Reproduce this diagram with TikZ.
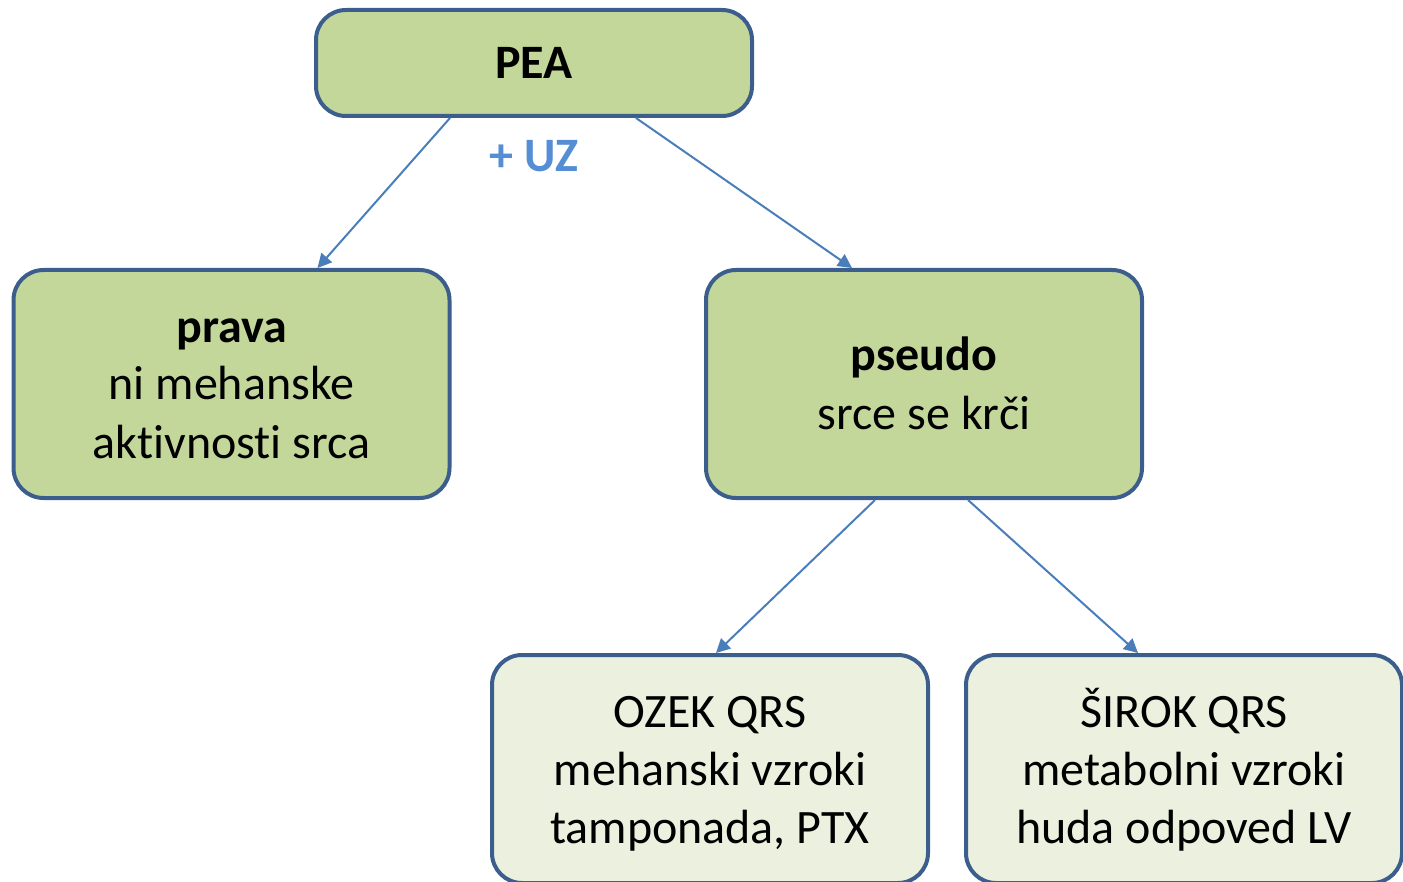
\documentclass[tikz,border=0pt]{standalone}
\usepackage{fontspec}
\setmainfont[Ligatures=NoCommon]{Carlito}
\usetikzlibrary{arrows.meta}
\definecolor{boxline}{HTML}{3B5E8C}
\definecolor{boxgreen}{HTML}{C4D79B}
\definecolor{boxpale}{HTML}{EBF1DE}
\definecolor{arrowblue}{HTML}{4A7EBB}
\definecolor{uzblue}{HTML}{558ED5}
\newcommand\topstrut{\rule{0pt}{22pt}}
\newcommand\botstrut{\rule[-6pt]{0pt}{6pt}}
\tikzset{
  box/.style={draw=boxline,line width=2pt,rounded corners=15pt,
    minimum width=218pt,align=center,
    font=\fontsize{24}{29}\selectfont},
  topbox/.style={box,fill=boxgreen,minimum height=53pt},
  midbox/.style={box,fill=boxgreen,minimum height=114pt},
  lowbox/.style={midbox,fill=boxpale},
  link/.style={-{Triangle[length=7pt,width=7pt]},draw=arrowblue,line width=1pt}
}

\begin{document}
\begin{tikzpicture}[x=0.5pt,y=-0.5pt]
    \useasboundingbox (0,0) rectangle (1403,882);
    \node[topbox] (pea) at (534,63) {\textbf{PEA}};
    \node[midbox] (prava) at (231.5,384) {\topstrut\textbf{prava}\\ni mehanske\\aktivnosti srca\botstrut};
    \node[midbox] (pseudo) at (924,384) {\topstrut\textbf{pseudo}\\srce se krči\botstrut};
    \node[lowbox] (ozek) at (710,769) {\topstrut OZEK QRS\\mehanski vzroki\\tamponada, PTX\botstrut};
    \node[lowbox] (sirok) at (1184,769) {\topstrut ŠIROK QRS\\metabolni vzroki\\huda odpoved LV\botstrut};
    \node[text=uzblue,font=\fontsize{24}{29}\selectfont\bfseries] (uz) at (534,156) {+ UZ};
    \draw[link] ([xshift=-42pt]pea.south) -- ([xshift=43pt]prava.north);
    \draw[link] ([xshift=51pt]pea.south) -- ([xshift=-36pt]pseudo.north);
    \draw[link] ([xshift=-24.5pt]pseudo.south) -- ([xshift=3pt]ozek.north);
    \draw[link] ([xshift=22pt]pseudo.south) -- ([xshift=-23pt]sirok.north);
  \end{tikzpicture}
\end{document}
